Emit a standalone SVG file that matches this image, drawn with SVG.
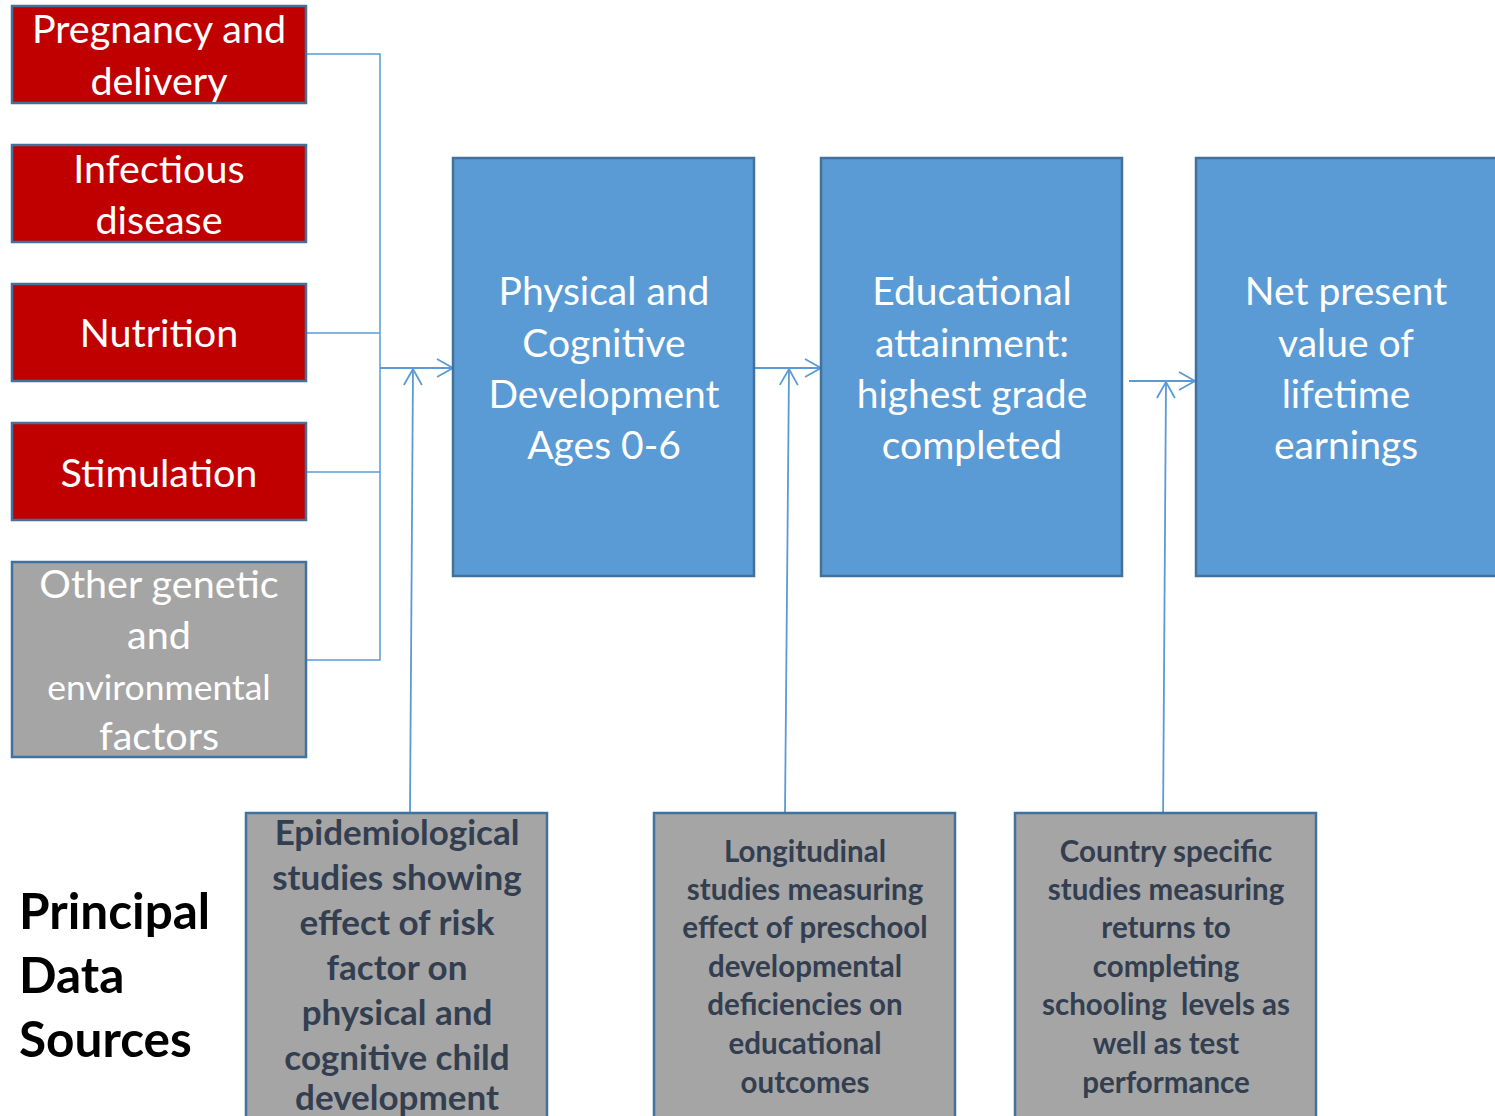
<svg xmlns="http://www.w3.org/2000/svg" width="1495" height="1116" viewBox="0 0 1495 1116">
  <defs>
    <marker id="openArrow" markerWidth="20" markerHeight="20" refX="17" refY="10" orient="auto" markerUnits="userSpaceOnUse">
      <path d="M1,1 L17,10 L1,19" fill="none" stroke="#5b9bd5" stroke-width="1.8"/>
    </marker>
  </defs>
  <style>
    .risk { fill: #c00000; stroke: #41719c; stroke-width: 2.5; }
    .other { fill: #a5a5a5; stroke: #41719c; stroke-width: 2.5; }
    .stage { fill: #5b9bd5; stroke: #41719c; stroke-width: 2.5; }
    .source { fill: #a5a5a5; stroke: #41719c; stroke-width: 2.5; }
    .wire { fill: none; stroke: #5b9bd5; stroke-width: 1.5; }
    .arrow { fill: none; stroke: #5b9bd5; stroke-width: 1.8; marker-end: url(#openArrow); }
    text { font-family: Lato, "Liberation Sans", sans-serif; text-anchor: middle; }
    .riskText { fill: #ffffff; font-size: 39.5px; }
    .stageText { fill: #ffffff; font-size: 39px; }
    .srcText { fill: #333f50; font-weight: bold; }
    .title { fill: #000000; font-weight: bold; font-size: 49.5px; text-anchor: start; }
  </style>

  <g id="connectors">
    <polyline class="wire" points="306,54 380,54 380,660 306,660"/>
    <line class="wire" x1="306" y1="333" x2="380" y2="333"/>
    <line class="wire" x1="306" y1="472" x2="380" y2="472"/>
    <line class="arrow" x1="380" y1="368" x2="453" y2="368"/>
    <line class="arrow" x1="410" y1="812" x2="413" y2="369"/>
    <line class="arrow" x1="754" y1="368" x2="821" y2="368"/>
    <line class="arrow" x1="785" y1="812" x2="789" y2="369"/>
    <line class="arrow" x1="1129" y1="381" x2="1195" y2="381"/>
    <line class="arrow" x1="1163" y1="826" x2="1166" y2="382"/>
  </g>

  <g id="pregnancy">
    <rect class="risk" x="12" y="6" width="294" height="97"/>
    <text class="riskText" x="159" y="43">Pregnancy and</text>
    <text class="riskText" x="159" y="95">delivery</text>
  </g>
  <g id="infectious">
    <rect class="risk" x="12" y="145" width="294" height="97"/>
    <text class="riskText" x="159" y="183">Infectious</text>
    <text class="riskText" x="159" y="234">disease</text>
  </g>
  <g id="nutrition">
    <rect class="risk" x="12" y="284" width="294" height="97"/>
    <text class="riskText" x="159" y="347">Nutrition</text>
  </g>
  <g id="stimulation">
    <rect class="risk" x="12" y="423" width="294" height="97"/>
    <text class="riskText" x="159" y="487">Stimulation</text>
  </g>
  <g id="other-factors">
    <rect class="other" x="12" y="562" width="294" height="195"/>
    <text class="riskText" x="159" y="598">Other genetic</text>
    <text class="riskText" x="159" y="649">and</text>
    <text class="riskText" x="159" y="700" style="font-size:35.5px">environmental</text>
    <text class="riskText" x="159" y="750">factors</text>
  </g>

  <g id="development">
    <rect class="stage" x="453" y="158" width="301" height="418"/>
    <text class="stageText" x="604" y="305">Physical and</text>
    <text class="stageText" x="604" y="357">Cognitive</text>
    <text class="stageText" x="604" y="408">Development</text>
    <text class="stageText" x="604" y="459">Ages 0-6</text>
  </g>
  <g id="education">
    <rect class="stage" x="821" y="158" width="301" height="418"/>
    <text class="stageText" x="972" y="305">Educational</text>
    <text class="stageText" x="972" y="357">attainment:</text>
    <text class="stageText" x="972" y="408">highest grade</text>
    <text class="stageText" x="972" y="459">completed</text>
  </g>
  <g id="earnings">
    <rect class="stage" x="1196" y="158" width="310" height="418"/>
    <text class="stageText" x="1346" y="305">Net present</text>
    <text class="stageText" x="1346" y="357">value of</text>
    <text class="stageText" x="1346" y="408">lifetime</text>
    <text class="stageText" x="1346" y="459">earnings</text>
  </g>

  <g id="principal-data-sources">
    <text class="title" x="19" y="929">Principal</text>
    <text class="title" x="19" y="993">Data</text>
    <text class="title" x="19" y="1057">Sources</text>
  </g>

  <g id="epidemiological-studies">
    <rect class="source" x="246" y="813" width="301" height="320"/>
    <g class="srcText" style="font-size:35px">
      <text x="397" y="845">Epidemiological</text>
      <text x="397" y="890">studies showing</text>
      <text x="397" y="935">effect of risk</text>
      <text x="397" y="980">factor on</text>
      <text x="397" y="1025">physical and</text>
      <text x="397" y="1070">cognitive child</text>
      <text x="397" y="1110">development</text>
    </g>
  </g>
  <g id="longitudinal-studies">
    <rect class="source" x="654" y="813" width="301" height="320"/>
    <g class="srcText" style="font-size:29.5px">
      <text x="805" y="862">Longitudinal</text>
      <text x="805" y="900">studies measuring</text>
      <text x="805" y="938">effect of preschool</text>
      <text x="805" y="977">developmental</text>
      <text x="805" y="1015">deficiencies on</text>
      <text x="805" y="1054">educational</text>
      <text x="805" y="1093">outcomes</text>
    </g>
  </g>
  <g id="country-studies">
    <rect class="source" x="1015" y="813" width="301" height="320"/>
    <g class="srcText" style="font-size:29.5px">
      <text x="1166" y="862">Country specific</text>
      <text x="1166" y="900">studies measuring</text>
      <text x="1166" y="938">returns to</text>
      <text x="1166" y="977">completing</text>
      <text x="1166" y="1015">schooling&#160; levels as</text>
      <text x="1166" y="1054">well as test</text>
      <text x="1166" y="1093">performance</text>
    </g>
  </g>
</svg>
